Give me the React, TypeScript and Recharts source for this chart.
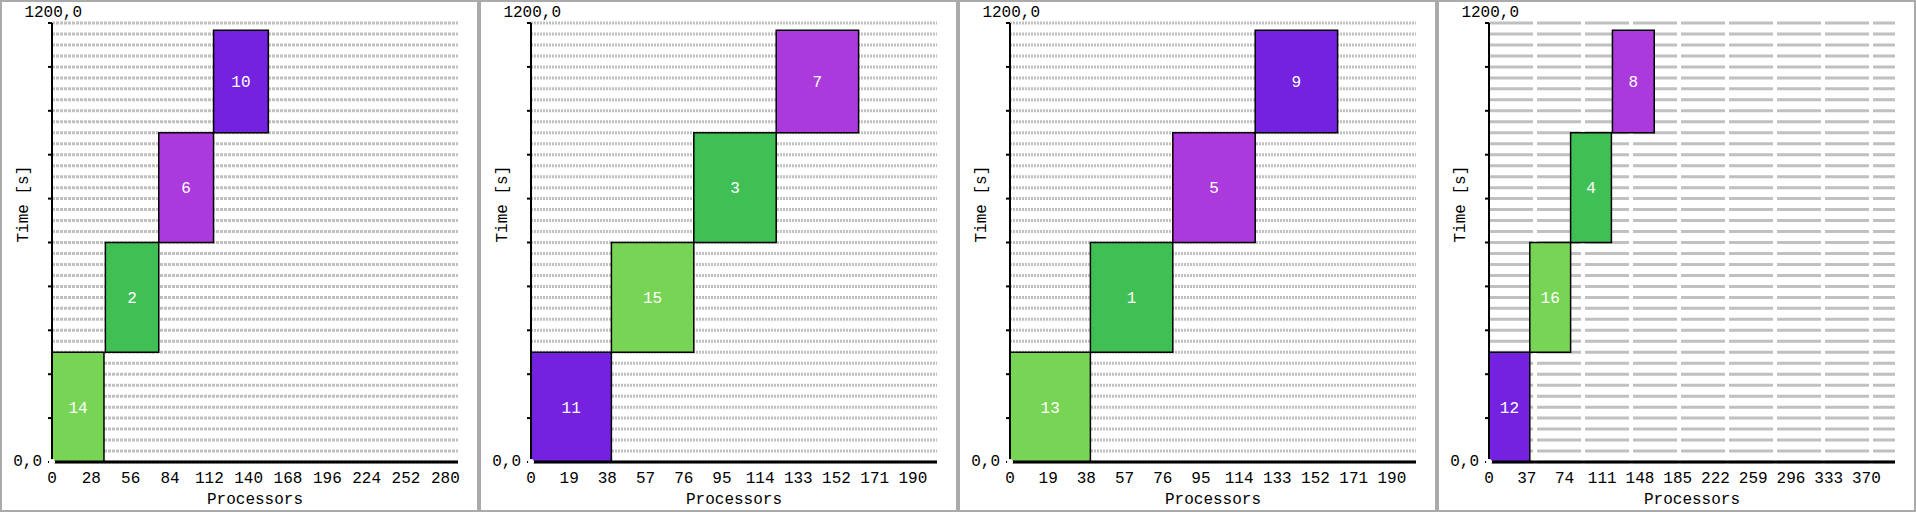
import React from 'react';
import { ComposedChart, XAxis, YAxis, CartesianGrid, ReferenceArea, Line } from 'recharts';

const LGREEN = '#77d454';
const GREEN = '#40bf55';
const MAGENTA = '#aa3adb';
const PURPLE = '#7422e0';

// per panel: job ids, processor ranges, time ranges, colours
const panelJobs = [
  [14, 2, 6, 10],
  [11, 15, 3, 7],
  [13, 1, 5, 9],
  [12, 16, 4, 8],
];
const panelProcStart = [
  [0, 38, 76, 115],
  [0, 40, 81, 122],
  [0, 40, 81, 122],
  [0, 40, 80, 121],
];
const panelProcEnd = [
  [37, 76, 115, 154],
  [40, 81, 122, 163],
  [40, 81, 122, 163],
  [40, 80, 120, 162],
];
const timeStart = [0, 300, 600, 900];
const timeEnd = [300, 600, 900, 1180];
const panelColors = [
  [LGREEN, GREEN, MAGENTA, PURPLE],
  [PURPLE, LGREEN, GREEN, MAGENTA],
  [LGREEN, GREEN, MAGENTA, PURPLE],
  [PURPLE, LGREEN, GREEN, MAGENTA],
];
const panelMax = [289, 202, 202, 398];
const panelStep = [28, 19, 19, 37];
const gridDash = ['3 1', '2 1', '2 1', '44 4'];

const yTicks = [0, 120, 240, 360, 480, 600, 720, 840, 960, 1080, 1200];
const gridTicks = Array.from({ length: 41 }, (_, i) => i * 30);

const FONT = '"Liberation Mono", "DejaVu Sans Mono", monospace';

const YTick = (props: any) => {
  const { x, y, payload } = props;
  if (payload.value === 1200) {
    return (
      <text x={x + 36} y={y - 6} textAnchor="end" fontFamily={FONT} fontSize={16} fill="#000">
        1200,0
      </text>
    );
  }
  if (payload.value === 0) {
    return (
      <text x={x - 4} y={y + 4} textAnchor="end" fontFamily={FONT} fontSize={16} fill="#000">
        0,0
      </text>
    );
  }
  return null;
};

const Panel = ({ idx }: { idx: number }) => {
  const step = panelStep[idx];
  const xTicks = Array.from({ length: Math.floor(panelMax[idx] / step) + 1 }, (_, i) => i * step);
  return (
    <div style={{ width: 479, height: 512, border: '2px solid #aaa', boxSizing: 'border-box', background: '#fff' }}>
      <ComposedChart width={475} height={508} data={[{ x: 0, y: 0 }]} margin={{ top: 21, right: 19, left: 0, bottom: 0 }}>
        <CartesianGrid
          vertical={false}
          horizontalValues={gridTicks}
          stroke="#c0c0c0"
          strokeWidth={3}
          strokeDasharray={gridDash[idx]}
        />
        <XAxis
          type="number"
          dataKey="x"
          domain={[0, panelMax[idx]]}
          ticks={xTicks}
          interval={0}
          tickSize={0}
          tickMargin={10}
          stroke="#000"
          strokeWidth={3}
          height={48}
          tick={{ fontFamily: FONT, fontSize: 16, fill: '#000' }}
          label={{ value: 'Processors', position: 'insideBottom', offset: 6, fontFamily: FONT, fontSize: 16, fill: '#000' }}
        />
        <YAxis
          type="number"
          domain={[0, 1200]}
          ticks={yTicks}
          interval={0}
          width={50}
          tickSize={4}
          stroke="#000"
          strokeWidth={2}
          tick={<YTick />}
          label={{ value: 'Time [s]', angle: -90, position: 'insideLeft', offset: 20, fontFamily: FONT, fontSize: 16, fill: '#000' }}
        />
        <Line dataKey="y" isAnimationActive={false} stroke="none" dot={false} />
        {panelJobs[idx].map((job, i) => (
          <ReferenceArea
            key={job}
            x1={panelProcStart[idx][i]}
            x2={panelProcEnd[idx][i]}
            y1={timeStart[i]}
            y2={timeEnd[i]}
            fill={panelColors[idx][i]}
            fillOpacity={1}
            stroke="#000"
            strokeWidth={1.5}
            ifOverflow="extendDomain"
            label={{ value: String(job), position: 'center', fill: '#fff', fontFamily: FONT, fontSize: 16 }}
          />
        ))}
      </ComposedChart>
    </div>
  );
};

export default function App() {
  return (
    <div style={{ position: 'absolute', left: 0, top: 0, width: 1916, height: 512, display: 'flex', background: '#fff' }}>
      {[0, 1, 2, 3].map((i) => (
        <Panel key={i} idx={i} />
      ))}
    </div>
  );
}
